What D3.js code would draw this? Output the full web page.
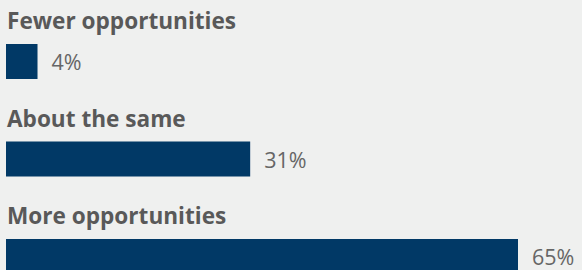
<!DOCTYPE html>
<html>
<head>
<meta charset="utf-8">
<script src="https://cdn.jsdelivr.net/npm/d3@7"></script>
<style>
  html, body { margin: 0; padding: 0; background: #eff0ef; }
  svg { display: block; }
</style>
</head>
<body>
<script>
const categories = ["Fewer opportunities", "About the same", "More opportunities"];
const values = [4, 31, 65];

const width = 582, height = 270;

const svg = d3.select("body")
    .append("svg")
    .attr("width", width)
    .attr("height", height);

svg.append("rect")
    .attr("width", width)
    .attr("height", height)
    .attr("fill", "#eff0ef");

const y = d3.scaleBand()
    .domain(categories)
    .range([0, 292.5]);

const x = d3.scaleLinear()
    .domain([0, 65])
    .range([0, 512]);

const left = 6;

const row = svg.selectAll(".row")
    .data(categories)
    .enter()
    .append("g")
    .attr("class", "row")
    .attr("transform", d => `translate(0,${y(d)})`);

row.append("text")
    .attr("x", 7)
    .attr("y", 29)
    .attr("font-family", "'Open Sans', sans-serif")
    .attr("font-weight", "bold")
    .attr("font-size", 22.6)
    .attr("fill", "#595959")
    .text(d => d);

row.append("rect")
    .attr("x", left)
    .attr("y", 44)
    .attr("height", 35)
    .attr("width", (d, i) => x(values[i]))
    .attr("fill", "#013966");

row.append("text")
    .attr("x", (d, i) => left + x(values[i]) + 14)
    .attr("y", 70)
    .attr("font-family", "'Open Sans', sans-serif")
    .attr("font-size", 21.5)
    .attr("fill", "#666")
    .text((d, i) => values[i] + "%");
</script>
</body>
</html>
